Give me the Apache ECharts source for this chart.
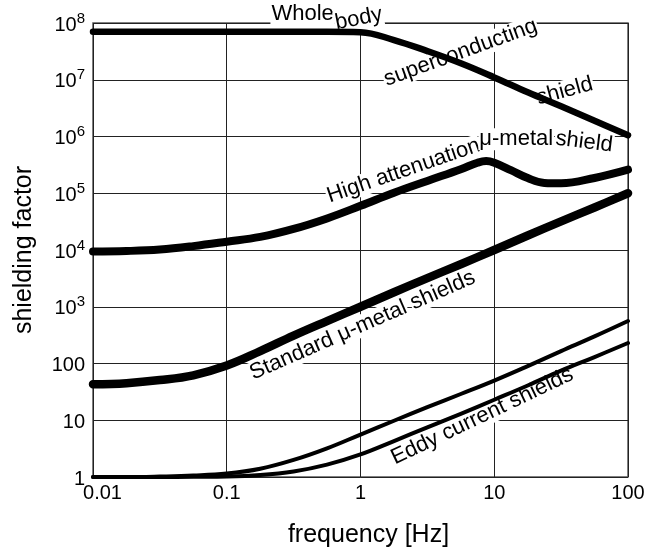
<!DOCTYPE html>
<html><head><meta charset="utf-8">
<script src="https://cdn.jsdelivr.net/npm/echarts@6/dist/echarts.min.js"></script>
<style>html,body{margin:0;padding:0;background:#fff}#c{width:659px;height:553px}</style>
</head><body><div id="c"></div>
<script>
// ---- data ----
const xTickLabels = ['0.01', '0.1', '1', '10', '100'];
const yTickLabels = ['1', '10', '100', '10^3', '10^4', '10^5', '10^6', '10^7', '10^8'];

// frequencies at which the curves were read (quarter-decade steps)
const freqs = [0.01, 0.0178, 0.0316, 0.0562, 0.1, 0.178, 0.316, 0.562, 1, 1.78, 3.16, 5.62, 10, 17.8, 31.6, 56.2, 100];

const wholeVal = [7e7, 7e7, 7e7, 7e7, 7e7, 7e7, 7e7, 7e7, 6.9e7, 5e7, 3.2e7, 1.95e7, 1.1e7, 6e6, 3.4e6, 1.9e6, 1.05e6];

const highFreq = [0.01, 0.0178, 0.0316, 0.0562, 0.1, 0.178, 0.316, 0.562, 1, 1.78, 3.16, 5.62, 7.5, 8.7, 10, 13.3, 17.8, 23.7, 31.6, 56.2, 100];
const highVal  = [9.4e3, 9.6e3, 1.02e4, 1.17e4, 1.4e4, 1.7e4, 2.35e4, 3.6e4, 6e4, 1.02e5, 1.65e5, 2.65e5, 3.45e5, 3.7e5, 3.45e5, 2.55e5, 1.85e5, 1.52e5, 1.5e5, 1.86e5, 2.6e5];

const stdVal   = [43, 45, 51, 62, 92, 165, 310, 560, 1000, 1800, 3200, 5600, 1e4, 1.8e4, 3.2e4, 5.6e4, 1e5];

const eddyAVal = [1, 1, 1.02, 1.06, 1.15, 1.4, 2.0, 3.2, 5.6, 9.8, 17, 29, 50, 90, 165, 300, 560];
const eddyBVal = [1, 1, 1, 1.01, 1.02, 1.08, 1.25, 1.65, 2.5, 4.3, 7.5, 13, 23, 41, 75, 130, 230];

// curve annotations: text, anchor frequency, anchor value, angle (deg)
const annotations = [
  ['Whole', 0.369, 1.43e8, 0],
  ['body', 0.97, 1.19e8, 11],
  ['superconducting', 5.6, 3.0e7, 20],
  ['shield', 33.6, 6.3e6, 15],
  ['High attenuation', 2.1, 2.49e5, 19],
  ['\u03bc-metal', 14.6, 8.9e5, 0],
  ['shield', 47, 8.0e5, -7],
  ['Standard \u03bc-metal shields', 1.035, 469, 23.6],
  ['Eddy current shields', 8.13, 11.8, 25.5]
];

const FONT = '"Liberation Sans", Arial, Helvetica, sans-serif';
const zip = (a, b) => a.map((v, i) => [v, b[i]]);

const chart = echarts.init(document.getElementById('c'), null, {renderer: 'canvas'});

function lineSeries(name, xs, ys, w) {
  return {
    name, type: 'line', data: zip(xs, ys), symbol: 'none',
    smooth: 0.4,
    lineStyle: {color: '#000', width: w, cap: 'round', join: 'round'},
    z: 3
  };
}

chart.setOption({
  backgroundColor: '#fff',
  animation: false,
  textStyle: {fontFamily: FONT},
  grid: {left: 93, right: 31, top: 23, bottom: 75, show: true, borderColor: '#555', borderWidth: 1.5, backgroundColor: 'transparent'},
  xAxis: {
    type: 'log', logBase: 10, min: 0.01, max: 100,
    name: 'frequency [Hz]', nameLocation: 'middle', nameGap: 46,
    nameTextStyle: {fontSize: 25, color: '#000', fontFamily: FONT, padding: [0, 0, 0, 16]},
    axisLine: {show: false}, axisTick: {show: false},
    splitLine: {show: true, lineStyle: {color: '#222', width: 1}},
    axisLabel: {
      margin: 6, color: '#000', fontSize: 20, fontFamily: FONT,
      formatter: function (v) {
        const i = Math.round(Math.log10(v)) + 2;
        const t = xTickLabels[i];
        return i === 0 ? '{f|' + t + '}' : t;
      },
      rich: {f: {fontSize: 20, fontFamily: FONT, color: '#000', padding: [0, 0, 0, 19]}}
    }
  },
  yAxis: {
    type: 'log', logBase: 10, min: 1, max: 1e8,
    name: 'shielding factor', nameLocation: 'middle', nameGap: 56,
    nameTextStyle: {fontSize: 25, color: '#000', fontFamily: FONT},
    axisLine: {show: false}, axisTick: {show: false},
    splitLine: {show: true, lineStyle: {color: '#222', width: 1}},
    axisLabel: {
      margin: 8, color: '#000',
      formatter: function (v) {
        const i = Math.round(Math.log10(v));
        const t = yTickLabels[i];
        if (t.indexOf('^') > 0) {
          const p = t.split('^');
          return '{b|' + p[0] + '}{s|' + p[1] + '}';
        }
        return '{b|' + t + '}';
      },
      rich: {
        b: {fontSize: 20, lineHeight: 24, fontFamily: FONT, color: '#000', verticalAlign: 'bottom'},
        s: {fontSize: 15, lineHeight: 15, fontFamily: FONT, color: '#000', verticalAlign: 'top'}
      }
    }
  },
  series: [
    lineSeries('Whole body superconducting shield', freqs, wholeVal, 6.5),
    lineSeries('High attenuation \u03bc-metal shield', highFreq, highVal, 8),
    lineSeries('Standard \u03bc-metal shields', freqs, stdVal, 8.5),
    lineSeries('Eddy current shield A', freqs, eddyAVal, 4),
    lineSeries('Eddy current shield B', freqs, eddyBVal, 4)
  ]
});

// place annotation words along rotated baselines, each with its own white box
const labelFont = '22px ' + FONT;
const ctx = document.createElement('canvas').getContext('2d');
ctx.font = labelFont;
const graphics = [];
annotations.forEach(function (a) {
  const p = chart.convertToPixel({gridIndex: 0}, [a[1], a[2]]);
  const th = a[3] * Math.PI / 180;
  const words = a[0].split(' ');
  const sp = ctx.measureText(' ').width;
  const ws = words.map(w => ctx.measureText(w).width);
  const total = ws.reduce((s, v) => s + v, 0) + sp * (words.length - 1);
  let s = -total / 2;
  words.forEach(function (w, i) {
    const mid = s + ws[i] / 2;
    graphics.push({
      type: 'text', z: 1,
      x: p[0] + mid * Math.cos(th), y: p[1] - mid * Math.sin(th),
      rotation: th,
      style: {text: w, font: labelFont, fill: '#000', backgroundColor: '#fff',
              align: 'center', verticalAlign: 'middle', padding: [0, 1]}
    });
    s += ws[i] + sp;
  });
});
chart.setOption({graphic: graphics});
</script>
</body></html>
